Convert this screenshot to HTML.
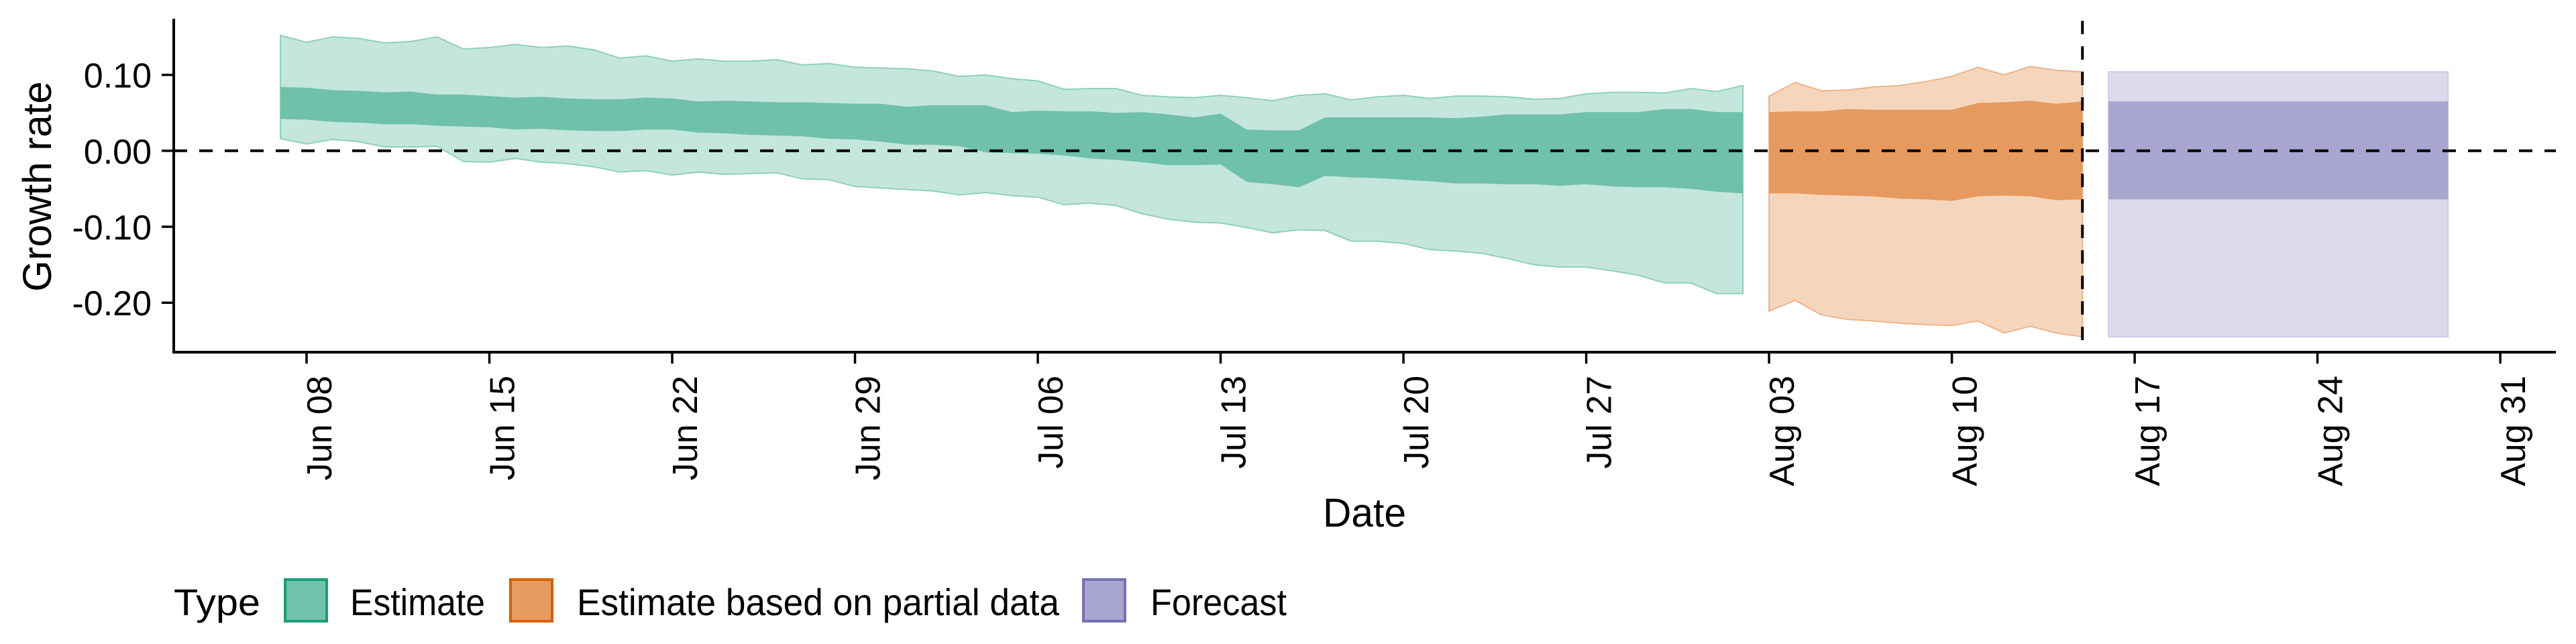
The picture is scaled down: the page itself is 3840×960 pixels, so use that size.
<!DOCTYPE html>
<html><head><meta charset="utf-8"><style>
html,body{margin:0;padding:0;background:#fff;}
svg{display:block;font-family:"Liberation Sans",Arial,sans-serif;}
</style></head><body>
<svg id="chart" width="3840" height="960" viewBox="0 0 3840 960" xmlns="http://www.w3.org/2000/svg">
<rect width="3840" height="960" fill="#fff"/>
<g id="bands"></g>
<g id="axes"></g>
<text x="0" y="0" transform="translate(76,278) rotate(-90)" text-anchor="middle" font-size="60">Growth rate</text>
<text x="2034" y="785" text-anchor="middle" font-size="60" textLength="124" lengthAdjust="spacingAndGlyphs">Date</text>
<g>
<text x="259" y="917" font-size="56" textLength="129" lengthAdjust="spacingAndGlyphs">Type</text>
<g>
<rect x="425" y="864" width="62" height="62" fill="#70c2aa" stroke="#1b9e77" stroke-width="4"/>
<text x="522" y="917" font-size="56" textLength="201" lengthAdjust="spacingAndGlyphs">Estimate</text>
</g>
<g>
<rect x="761" y="864" width="62" height="62" fill="#e69b62" stroke="#d95f02" stroke-width="4"/>
<text x="860" y="917" font-size="56" textLength="719" lengthAdjust="spacingAndGlyphs">Estimate based on partial data</text>
</g>
<g>
<rect x="1615" y="864" width="62" height="62" fill="#a8a5cf" stroke="#7570b3" stroke-width="4"/>
<text x="1715" y="917" font-size="56" textLength="203" lengthAdjust="spacingAndGlyphs">Forecast</text>
</g>
</g>
</svg>
<script>
// Day offsets are relative to Jun 08
const estStart = -1;
const estUpper90 = [0.152,0.143,0.150,0.148,0.142,0.144,0.150,0.134,0.136,0.140,0.136,0.138,0.133,0.122,0.125,0.118,0.121,0.118,0.118,0.120,0.113,0.115,
0.110,0.109,0.108,0.105,0.098,0.100,0.095,0.092,0.081,0.082,0.082,0.073,0.071,0.070,0.073,0.070,0.066,0.073,0.075,0.067,0.071,0.073,0.069,0.072,0.072,0.071,0.068,0.069,0.075,0.077,0.077,0.076,0.082,0.078,0.086];
const estUpper50 = [0.084,0.083,0.080,0.079,0.077,0.078,0.074,0.074,0.072,0.070,0.071,0.069,0.068,0.068,0.070,0.069,0.065,0.066,0.065,0.064,0.064,0.063,
0.062,0.062,0.058,0.060,0.060,0.060,0.051,0.053,0.052,0.052,0.050,0.051,0.048,0.044,0.049,0.028,0.027,0.027,0.044,0.044,0.044,0.044,0.044,0.043,0.045,0.048,0.048,0.048,0.051,0.051,0.051,0.055,0.055,0.051,0.051];
const estLower50 = [0.042,0.041,0.038,0.037,0.035,0.035,0.033,0.032,0.031,0.028,0.029,0.027,0.026,0.026,0.028,0.028,0.024,0.023,0.021,0.020,0.019,0.016,
0.015,0.012,0.008,0.008,0.006,-0.002,-0.003,-0.004,-0.006,-0.010,-0.012,-0.015,-0.019,-0.019,-0.018,-0.041,-0.044,-0.048,-0.033,-0.035,-0.036,-0.038,-0.040,-0.043,-0.043,-0.044,-0.044,-0.046,-0.044,-0.047,-0.048,-0.048,-0.050,-0.054,-0.056];
const estLower90 = [0.016,0.009,0.015,0.012,0.005,0.005,0.006,-0.014,-0.015,-0.010,-0.015,-0.017,-0.021,-0.028,-0.026,-0.032,-0.028,-0.031,-0.030,-0.029,-0.037,-0.038,
-0.047,-0.049,-0.051,-0.053,-0.058,-0.055,-0.059,-0.061,-0.071,-0.069,-0.072,-0.083,-0.090,-0.094,-0.095,-0.101,-0.108,-0.104,-0.105,-0.119,-0.119,-0.122,-0.130,-0.132,-0.135,-0.142,-0.150,-0.153,-0.153,-0.158,-0.164,-0.174,-0.174,-0.188,-0.188];
const partStart = 56;
const partUpper90 = [0.072,0.090,0.079,0.080,0.084,0.086,0.091,0.098,0.110,0.100,0.111,0.106,0.104];
const partUpper50 = [0.051,0.052,0.052,0.055,0.054,0.054,0.054,0.054,0.063,0.064,0.066,0.062,0.065];
const partLower50 = [-0.056,-0.056,-0.058,-0.059,-0.060,-0.063,-0.064,-0.066,-0.060,-0.059,-0.060,-0.065,-0.064];
const partLower90 = [-0.211,-0.197,-0.216,-0.222,-0.224,-0.227,-0.229,-0.230,-0.224,-0.240,-0.231,-0.240,-0.245];
const fcStart = 69;
const fcUpper90 = [0.104,0.104,0.104,0.104,0.104,0.104,0.104,0.104,0.104,0.104,0.104,0.104,0.104,0.104];
const fcUpper50 = [0.065,0.065,0.065,0.065,0.065,0.065,0.065,0.065,0.065,0.065,0.065,0.065,0.065,0.065];
const fcLower50 = [-0.064,-0.064,-0.064,-0.064,-0.064,-0.064,-0.064,-0.064,-0.064,-0.064,-0.064,-0.064,-0.064,-0.064];
const fcLower90 = [-0.245,-0.245,-0.245,-0.245,-0.245,-0.245,-0.245,-0.245,-0.245,-0.245,-0.245,-0.245,-0.245,-0.245];
const xTickDays = [0,7,14,21,28,35,42,49,56,63,70,77,84];
const xTickLabels = ["Jun 08","Jun 15","Jun 22","Jun 29","Jul 06","Jul 13","Jul 20","Jul 27","Aug 03","Aug 10","Aug 17","Aug 24","Aug 31"];
const yTickValues = [0.10,0.00,-0.10,-0.20];
const yTickLabels = ["0.10","0.00","-0.10","-0.20"];
const dataCutoffDay = 68;

const NS = "http://www.w3.org/2000/svg";
function xs(d){ return 457 + 38.93*d; }
function ys(v){ return 224.8 - v*1132; }
function mk(tag, attrs, parent){
  const e = document.createElementNS(NS, tag);
  for (const k in attrs) e.setAttribute(k, attrs[k]);
  parent.appendChild(e);
  return e;
}
const bands = document.getElementById('bands');
const axes = document.getElementById('axes');

function band(start, up, lo, fill, stroke, name, step){
  let pts = [];
  for (let i=0;i<up.length;i++){
    if (step){ pts.push(xs(start+i-0.5)+','+ys(up[i])); pts.push(xs(start+i+0.5)+','+ys(up[i])); }
    else pts.push(xs(start+i)+','+ys(up[i]));
  }
  for (let i=lo.length-1;i>=0;i--){
    if (step){ pts.push(xs(start+i+0.5)+','+ys(lo[i])); pts.push(xs(start+i-0.5)+','+ys(lo[i])); }
    else pts.push(xs(start+i)+','+ys(lo[i]));
  }
  const p = mk('polygon', {points: pts.join(' '), fill: fill, stroke: stroke, 'stroke-width': stroke==='none'?0:2}, bands);
  
  
}
band(estStart, estUpper90, estLower90, '#c5e6dc', '#8fd0bd', 'estimate-90-band', false);
band(estStart, estUpper50, estLower50, '#6fc1a9', 'none', 'estimate-50-band', false);
band(partStart, partUpper90, partLower90, '#f5d6bd', '#eeb48a', 'partial-90-band', false);
band(partStart, partUpper50, partLower50, '#e69a5f', 'none', 'partial-50-band', false);
// forecast drawn as flat rectangles across its date span
(function(){
  const x0 = xs(fcStart), x1 = xs(fcStart + fcUpper90.length - 1);
  const r1 = mk('rect', {x:x0, y:ys(fcUpper90[0]), width:x1-x0, height:ys(fcLower90[0])-ys(fcUpper90[0]), fill:'#dcdaea', stroke:'#cfcce4', 'stroke-width':2}, bands);
  
  
  const r2 = mk('rect', {x:x0, y:ys(fcUpper50[0]), width:x1-x0, height:ys(fcLower50[0])-ys(fcUpper50[0]), fill:'#a8a5cf'}, bands);
  
  
})();

// zero line
const zl = mk('line', {x1:259, x2:3810, y1:ys(0), y2:ys(0), stroke:'#000', 'stroke-width':4, 'stroke-dasharray':'20 18'}, axes);


// cutoff line
const cl = mk('line', {x1:xs(dataCutoffDay), x2:xs(dataCutoffDay), y1:31, y2:525, stroke:'#000', 'stroke-width':4, 'stroke-dasharray':'20 18'}, axes);



// axis lines
const ya = mk('line', {x1:259, x2:259, y1:28, y2:527, stroke:'#000', 'stroke-width':4}, axes);


const xa = mk('line', {x1:257, x2:3810, y1:525, y2:525, stroke:'#000', 'stroke-width':4}, axes);



yTickValues.forEach(function(v,i){
  const t = mk('line', {x1:241, x2:259, y1:ys(v), y2:ys(v), stroke:'#000', 'stroke-width':3.5}, axes);
  
  
  const l = mk('text', {x:226, y:ys(v)+19, 'text-anchor':'end', 'font-size':52}, axes);
  l.textContent = yTickLabels[i];
  
  
});
xTickDays.forEach(function(d,i){
  const x = xs(d);
  const t = mk('line', {x1:x, x2:x, y1:525, y2:542, stroke:'#000', 'stroke-width':3.5}, axes);
  
  
  const l = mk('text', {x:0, y:0, 'text-anchor':'end', 'font-size':52, transform:'translate('+(x+37)+',560) rotate(-90)'}, axes);
  l.textContent = xTickLabels[i];
  
  
});
</script>
</body></html>
